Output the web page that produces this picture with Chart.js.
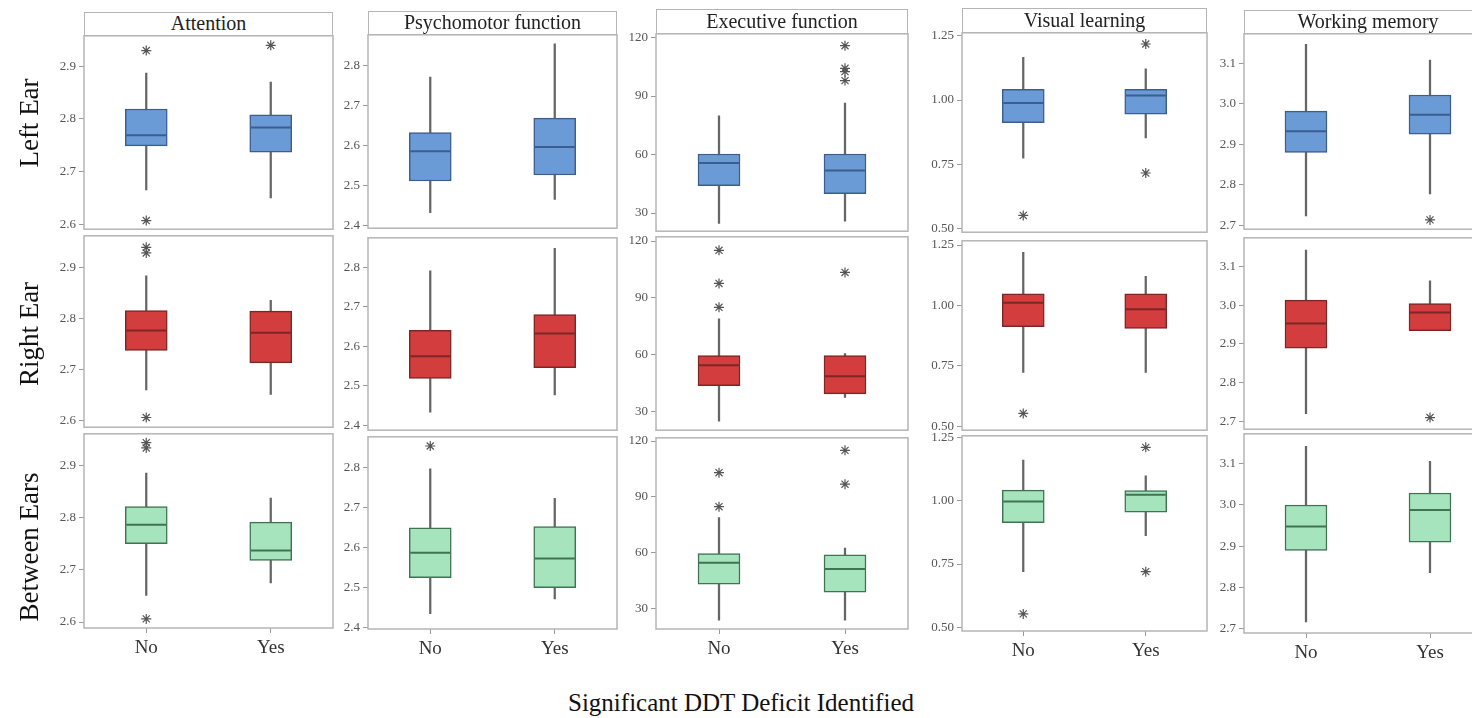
<!DOCTYPE html>
<html>
<head>
<meta charset="utf-8">
<script src="https://cdn.jsdelivr.net/npm/chart.js@4.4.1/dist/chart.umd.min.js"></script>
<style>
  html, body { margin:0; padding:0; width:1472px; height:718px; overflow:hidden; background:#fff; }
  #stage { position:relative; width:1472px; height:718px; overflow:hidden; }
  canvas { position:absolute; }
  .hdr { position:absolute; box-sizing:border-box; border:1.5px solid #b5b5b5; font-family:"Liberation Serif", serif; font-size:20px; color:#222; text-align:center; background:#fff; }
  .rowlab { position:absolute; font-family:"Liberation Serif", serif; font-size:27px; color:#111; white-space:nowrap; transform:translate(-50%,-50%) rotate(-90deg); }
  .xtitle { position:absolute; font-family:"Liberation Serif", serif; font-size:25px; color:#111; white-space:nowrap; transform:translate(-50%,-50%); }
</style>
</head>
<body>
<div id="stage"></div>
<script>
// ---------- DATA ----------
const categories = ['No', 'Yes'];
const measures = ['Attention', 'Psychomotor function', 'Executive function', 'Visual learning', 'Working memory'];
const rowLabels = ['Left Ear', 'Right Ear', 'Between Ears'];
const xTitle = 'Significant DDT Deficit Identified';

// five-number summaries [whisker low, Q1, median, Q3, whisker high]; rows: Left Ear, Right Ear, Between Ears
const attentionNo  = [[2.665, 2.749, 2.769, 2.819, 2.887], [2.660, 2.737, 2.776, 2.815, 2.883], [2.651, 2.750, 2.786, 2.821, 2.885]];
const attentionYes = [[2.650, 2.737, 2.784, 2.808, 2.870], [2.651, 2.713, 2.772, 2.814, 2.835], [2.675, 2.718, 2.737, 2.791, 2.837]];
const attentionOutNo  = [[2.930, 2.607], [2.939, 2.928, 2.606], [2.943, 2.933, 2.606]];
const attentionOutYes = [[2.940], [], []];

const psychomotorNo  = [[2.433, 2.512, 2.586, 2.633, 2.771], [2.433, 2.519, 2.575, 2.641, 2.792], [2.434, 2.524, 2.587, 2.649, 2.797]];
const psychomotorYes = [[2.466, 2.527, 2.597, 2.669, 2.854], [2.477, 2.546, 2.633, 2.681, 2.849], [2.471, 2.499, 2.572, 2.652, 2.723]];
const psychomotorOutNo  = [[], [], [2.854]];
const psychomotorOutYes = [[], [], []];

const executiveNo  = [[24.7, 44.1, 55.6, 60.3, 79.9], [24.8, 43.6, 54.3, 59.5, 78.9], [23.7, 43.0, 54.5, 59.5, 78.8]];
const executiveYes = [[25.9, 40.0, 51.8, 60.3, 86.4], [37.3, 39.2, 48.6, 59.5, 60.5], [23.7, 38.7, 51.2, 58.8, 62.5]];
const executiveOutNo  = [[], [115.1, 97.6, 85.0], [103.0, 84.7]];
const executiveOutYes = [[115.8, 104.2, 102.5, 97.9], [103.4], [115.0, 96.8]];

const visualNo  = [[0.774, 0.912, 0.988, 1.042, 1.166], [0.723, 0.912, 1.011, 1.048, 1.220], [0.720, 0.913, 0.997, 1.042, 1.161]];
const visualYes = [[0.853, 0.945, 1.018, 1.042, 1.121], [0.723, 0.905, 0.984, 1.048, 1.121], [0.862, 0.955, 1.024, 1.040, 1.099]];
const visualOutNo  = [[0.551], [0.553], [0.553]];
const visualOutYes = [[1.218, 0.716], [], [1.211, 0.720]];

const memoryNo  = [[2.723, 2.880, 2.932, 2.982, 3.147], [2.720, 2.889, 2.953, 3.013, 3.142], [2.716, 2.890, 2.948, 3.000, 3.142]];
const memoryYes = [[2.777, 2.925, 2.973, 3.022, 3.108], [2.934, 2.934, 2.981, 3.004, 3.063], [2.836, 2.910, 2.988, 3.029, 3.106]];
const memoryOutNo  = [[], [], []];
const memoryOutYes = [[2.713], [2.710], []];

// tick labels per column
const attentionTicks = [2.6, 2.7, 2.8, 2.9];
const psychomotorTicks = [2.4, 2.5, 2.6, 2.7, 2.8];
const executiveTicks = [30, 60, 90, 120];
const visualTicks = [0.50, 0.75, 1.00, 1.25];
const memoryTicks = [2.7, 2.8, 2.9, 3.0, 3.1];

// axis ranges [row][col]
const yMins = [[2.5906, 2.3943, 20.7, 0.4857, 2.690], [2.587, 2.3874, 20.04, 0.4836, 2.680], [2.5886, 2.3958, 18.93, 0.4854, 2.6893]];
const yMaxs = [[2.958, 2.8767, 121.9, 1.2616, 3.1733], [2.9615, 2.8755, 122.25, 1.2677, 3.174], [2.960, 2.877, 121.76, 1.2567, 3.1727]];

// ---------- LAYOUT / STYLE ----------
const colLeft = [84, 368, 656, 962, 1244];
const colWidth = [249, 249, 252, 245, 248];
const headerTop = [12, 11, 9, 8, 10];
const plotTop = [[35, 34, 33, 32, 33], [235, 237, 236, 240, 237], [433, 436, 437, 435, 433]];
const plotBottom = [[230, 229, 232, 233, 230], [428, 431, 431, 431, 430], [628, 629, 629, 631, 633]];
const rowFill = ['#6b9bd6', '#d33d3d', '#a6e4bd'];
const rowStroke = ['#3d5d8c', '#7d2626', '#3f7352'];

const table = [
  { no: attentionNo, yes: attentionYes, outNo: attentionOutNo, outYes: attentionOutYes, ticks: attentionTicks, dec: 1 },
  { no: psychomotorNo, yes: psychomotorYes, outNo: psychomotorOutNo, outYes: psychomotorOutYes, ticks: psychomotorTicks, dec: 1 },
  { no: executiveNo, yes: executiveYes, outNo: executiveOutNo, outYes: executiveOutYes, ticks: executiveTicks, dec: 0 },
  { no: visualNo, yes: visualYes, outNo: visualOutNo, outYes: visualOutYes, ticks: visualTicks, dec: 2 },
  { no: memoryNo, yes: memoryYes, outNo: memoryOutNo, outYes: memoryOutYes, ticks: memoryTicks, dec: 1 }
];

const stage = document.getElementById('stage');

const framePlugin = {
  id: 'frame',
  afterDraw(chart) {
    const a = chart.chartArea, ctx = chart.ctx;
    ctx.save();
    ctx.strokeStyle = '#b5b5b5';
    ctx.lineWidth = 1.5;
    ctx.strokeRect(a.left, a.top, a.right - a.left, a.bottom - a.top);
    ctx.restore();
  }
};

const AXW = 45, PT = 10, PB = 10, PR = 6, XH = 36;
const tickFont = { family: 'Liberation Serif', size: 13 };

for (let r = 0; r < 3; r++) {
  for (let c = 0; c < 5; c++) {
    const d = table[c];
    const noS = d.no[r], yesS = d.yes[r];
    const top = plotTop[r][c], bottom = plotBottom[r][c];
    const plotH = bottom - top;
    const W = AXW + colWidth[c] + PR;
    const H = PT + plotH + (r === 2 ? XH : PB);
    const cv = document.createElement('canvas');
    cv.width = W; cv.height = H;
    cv.style.left = (colLeft[c] - AXW) + 'px';
    cv.style.top = (top - PT) + 'px';
    cv.style.width = W + 'px'; cv.style.height = H + 'px';
    stage.appendChild(cv);

    const outliers = [
      ...d.outNo[r].map(v => ({ x: 'No', y: v })),
      ...d.outYes[r].map(v => ({ x: 'Yes', y: v }))
    ];
    const ticks = d.ticks, dec = d.dec;
    const xOpts = {
      display: r === 2, offset: true,
      grid: { display: true, offset: false, drawOnChartArea: false, tickLength: 5, color: '#999' },
      border: { display: false },
      ticks: { font: { family: 'Liberation Serif', size: 19 }, color: '#333', padding: 4 }
    };
    if (r === 2) xOpts.afterFit = s => { s.height = XH; };

    new Chart(cv, {
      type: 'bar',
      data: {
        labels: categories,
        datasets: [
          { type: 'bar', data: [[noS[0], noS[4]], [yesS[0], yesS[4]]], barThickness: 1.6,
            backgroundColor: '#666', borderWidth: 0, grouped: false, order: 4 },
          { type: 'bar', data: [[noS[1], noS[3]], [yesS[1], yesS[3]]], barThickness: 42,
            backgroundColor: rowFill[r], borderColor: rowStroke[r], borderWidth: 1.5,
            borderSkipped: false, grouped: false, order: 3 },
          { type: 'line', data: [noS[2], yesS[2]], showLine: false, pointStyle: 'line',
            pointRadius: 20, pointHoverRadius: 20, pointBorderWidth: 2, pointBorderColor: rowStroke[r], order: 2, clip: 0 },
          { type: 'line', data: outliers, showLine: false, pointStyle: 'star',
            pointRadius: 5, pointHoverRadius: 5, pointBorderWidth: 1.2, pointBorderColor: '#555', order: 1, clip: 0 }
        ]
      },
      options: {
        responsive: false, maintainAspectRatio: false, animation: false, devicePixelRatio: 1, events: [],
        layout: { autoPadding: false, padding: { top: PT, bottom: r === 2 ? 0 : PB, left: 0, right: PR } },
        plugins: { legend: { display: false }, tooltip: { enabled: false } },
        scales: {
          x: xOpts,
          y: {
            min: yMins[r][c], max: yMaxs[r][c],
            afterBuildTicks: s => { s.ticks = ticks.map(v => ({ value: v })); },
            ticks: { font: tickFont, color: '#555', padding: 3, callback: v => Number(v).toFixed(dec) },
            grid: { drawOnChartArea: false, tickLength: 5, color: '#999' },
            border: { display: false },
            afterFit: s => { s.width = AXW; }
          }
        }
      },
      plugins: [framePlugin]
    });
  }
}

// column headers
for (let c = 0; c < 5; c++) {
  const h = document.createElement('div');
  h.className = 'hdr';
  const ht = plotTop[0][c] - headerTop[c] + 1;
  h.style.left = colLeft[c] + 'px';
  h.style.top = headerTop[c] + 'px';
  h.style.width = colWidth[c] + 'px';
  h.style.height = ht + 'px';
  h.style.lineHeight = (ht - 3) + 'px';
  h.textContent = measures[c];
  stage.appendChild(h);
}

// row labels
const rowLabelY = [123, 334, 547];
rowLabels.forEach((t, i) => {
  const el = document.createElement('div');
  el.className = 'rowlab';
  el.style.left = '29px';
  el.style.top = rowLabelY[i] + 'px';
  el.textContent = t;
  stage.appendChild(el);
});

const xt = document.createElement('div');
xt.className = 'xtitle';
xt.style.left = '741px';
xt.style.top = '703px';
xt.textContent = xTitle;
stage.appendChild(xt);
</script>
</body>
</html>
